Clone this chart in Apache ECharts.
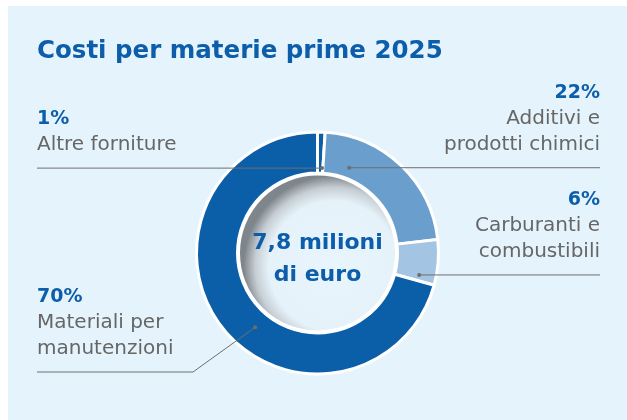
<!DOCTYPE html>
<html>
<head>
<meta charset="utf-8">
<title>Costi per materie prime 2025</title>
<script src="https://cdn.jsdelivr.net/npm/echarts@6/dist/echarts.min.js"></script>
<style>
  html, body { margin: 0; padding: 0; background: #fff; }
  #chart { width: 627px; height: 420px; }
</style>
</head>
<body>
<div id="chart"></div>
<script>
// dati del grafico
var categorie = ['Altre forniture', 'Additivi e\nprodotti chimici', 'Carburanti e\ncombustibili', 'Materiali per\nmanutenzioni'];
var percentuali = [1, 22, 6, 70];
var colori = ['#0b5fa8', '#6a9fcd', '#a3c4e2', '#0b5fa8'];
var titolo = 'Costi per materie prime 2025';
var testoCentrale = '7,8 milioni\ndi euro';

// layout della ciambella e delle etichette
var font = "'DejaVu Sans', sans-serif";
var centro = [317.5, 253];
var raggio = [80, 121];
var xSinistra = 37, xDestra = 600;
// t = frazione dell'arco dove parte la linea, r = raggio del punto
var etichette = [
  { lato: 'left', t: 0.83, r: 85 },
  { lato: 'right', t: 0.21, r: 91 },
  { lato: 'right', t: 0.85, r: 104 },
  { lato: 'left', t: 0.45, r: 97, lineaY: 372, gomitoX: 193 }
];

function puntoAncora(i) {
  var tot = percentuali.reduce(function (a, b) { return a + b; }, 0);
  var a0 = -Math.PI / 2;
  for (var k = 0; k < i; k++) a0 += percentuali[k] / tot * Math.PI * 2;
  var a1 = a0 + percentuali[i] / tot * Math.PI * 2;
  var e = etichette[i];
  var a = a0 + (a1 - a0) * e.t;
  return [centro[0] + e.r * Math.cos(a), centro[1] + e.r * Math.sin(a)];
}

// linea guida: dal punto nella fetta fino al bordo, sotto il testo
function lineaGuida(i) {
  var e = etichette[i];
  var d = puntoAncora(i);
  var fine = e.lato === 'left' ? xSinistra : xDestra;
  var yLinea = e.lineaY || d[1];
  var pts = [d];
  if (e.gomitoX) pts.push([e.gomitoX, yLinea]);
  pts.push([fine, yLinea]);
  return { punti: pts, x: fine, y: yLinea };
}

var dati = categorie.map(function (nome, i) {
  return { name: nome, value: percentuali[i], itemStyle: { color: colori[i] } };
});

// linee e puntini sopra la ciambella
var guide = [];
categorie.forEach(function (n, i) {
  var g = lineaGuida(i);
  guide.push({ type: 'polyline', shape: { points: g.punti }, style: { stroke: '#6e6e6e', lineWidth: 1, fill: null }, z: 100, silent: true });
  guide.push({ type: 'circle', shape: { cx: g.punti[0][0], cy: g.punti[0][1], r: 2 }, style: { fill: '#6e6e6e' }, z: 100, silent: true });
});

var myChart = echarts.init(document.getElementById('chart'));
var option = {
  animation: false,
  backgroundColor: '#ffffff',
  title: {
    text: titolo,
    left: 37,
    top: 37,
    padding: 0,
    textStyle: { fontFamily: font, fontSize: 24.5, fontWeight: 700, color: '#0d5eaa', lineHeight: 30 }
  },
  graphic: [{
    type: 'rect',
    shape: { x: 8, y: 6, width: 640, height: 430 },
    style: { fill: '#e5f4fc' },
    z: -10,
    silent: true
  }].concat(guide),
  series: [{
    // disco centrale con ombra
    type: 'pie',
    center: centro,
    radius: [0, 79],
    silent: true,
    data: [{ value: 1, name: 'totale' }],
    itemStyle: {
      color: {
        type: 'radial', x: 0.6, y: 0.58, r: 0.56,
        colorStops: [
          { offset: 0, color: '#e8f5fc' },
          { offset: 0.72, color: '#e5f2f9' },
          { offset: 0.87, color: '#c6ced4' },
          { offset: 1, color: '#7f868b' }
        ]
      },
      borderColor: '#ffffff',
      borderWidth: 3
    },
    label: {
      show: true,
      position: 'center',
      formatter: testoCentrale,
      fontFamily: font,
      fontSize: 22,
      fontWeight: 700,
      lineHeight: 32,
      color: '#0d5eaa'
    },
    labelLayout: { dy: 6 },
    labelLine: { show: false },
    emphasis: { disabled: true }
  }, {
    type: 'pie',
    center: centro,
    radius: raggio,
    startAngle: 90,
    clockwise: true,
    avoidLabelOverlap: false,
    silent: true,
    data: dati,
    itemStyle: { borderColor: '#ffffff', borderWidth: 3 },
    label: {
      show: true,
      position: 'outside',
      formatter: function (p) {
        var righe = p.name.split('\n').map(function (r) { return '{n|' + r + '}'; });
        return '{p|' + p.value + '%}\n' + righe.join('\n');
      },
      rich: {
        p: { fontFamily: font, fontSize: 19, fontWeight: 700, color: '#0d5eaa', lineHeight: 26 },
        n: { fontFamily: font, fontSize: 20, fontWeight: 'normal', color: '#666666', lineHeight: 26 }
      }
    },
    labelLine: { show: false },
    labelLayout: function (p) {
      var i = p.dataIndex;
      var g = lineaGuida(i);
      return {
        x: g.x,
        y: g.y - 10,
        align: etichette[i].lato,
        verticalAlign: 'bottom'
      };
    },
    emphasis: { disabled: true }
  }]
};
myChart.setOption(option);
</script>
</body>
</html>
